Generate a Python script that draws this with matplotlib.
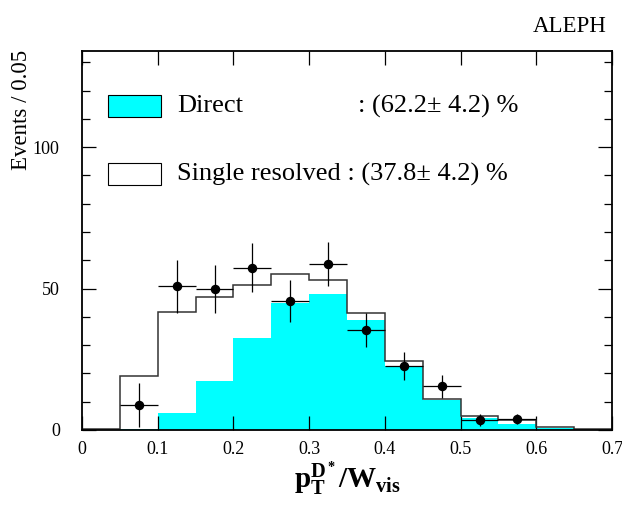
#!/usr/bin/env python3
"""
ALEPH D* pT/Wvis distribution: direct vs single resolved fit
"""

import matplotlib
matplotlib.use('Agg')
import matplotlib.pyplot as plt
from matplotlib.patches import Rectangle
from matplotlib.ticker import MultipleLocator

plt.rcParams['font.family'] = ['Liberation Serif', 'DejaVu Serif']
plt.rcParams['mathtext.fontset'] = 'custom'
plt.rcParams['mathtext.rm'] = 'Liberation Serif'
plt.rcParams['mathtext.it'] = 'Liberation Serif'
plt.rcParams['mathtext.bf'] = 'Liberation Serif:bold'

# bin edges (width 0.05)
bin_edges = [0.0, 0.05, 0.10, 0.15, 0.20, 0.25, 0.30, 0.35,
             0.40, 0.45, 0.50, 0.55, 0.60, 0.65, 0.70]

# direct component (cyan, filled)
direct = [0.0, 0.5, 6.0, 17.5, 32.7, 45.0, 48.1,
          39.0, 22.8, 10.6, 4.4, 2.1, 0.6, 0.1]

# direct + single resolved (open histogram)
total = [0.2, 19.0, 41.7, 46.9, 51.3, 55.0, 53.1,
         41.4, 24.3, 10.8, 5.1, 3.7, 1.0, 0.3]

# data points
data_x = [0.075, 0.125, 0.175, 0.225, 0.275, 0.325,
          0.375, 0.425, 0.475, 0.525, 0.575]
data_y = [8.9, 50.8, 49.8, 57.4, 45.7, 58.6,
          35.5, 22.6, 15.5, 3.5, 3.9]
data_err = [7.7, 9.3, 8.6, 8.6, 7.4, 7.7,
            6.0, 4.9, 4.1, 2.0, 1.8]
half_bin = 0.025

legend_labels = ['Direct', 'Single resolved : (37.8\u00b1 4.2) %']
direct_frac = ': (62.2\u00b1 4.2) %'

W, H = 622, 505
fig = plt.figure(figsize=(W / 100, H / 100), dpi=100)
ax = fig.add_axes([82 / W, 1 - 430 / H, 530 / W, 379 / H])

ax.stairs(direct, bin_edges, fill=True, color='#00ffff', zorder=1)
ax.stairs(total, bin_edges, color='#333333', linewidth=1.1, zorder=2)
ax.errorbar(data_x, data_y, yerr=data_err, xerr=half_bin, fmt='o',
            color='black', markersize=5.8, elinewidth=0.9, capsize=0, zorder=3)

ax.set_xlim(0, 0.7)
ax.set_ylim(0, 134)

ax.yaxis.set_major_locator(MultipleLocator(50))
ax.yaxis.set_minor_locator(MultipleLocator(10))
ax.set_xticks([0, 0.1, 0.2, 0.3, 0.4, 0.5, 0.6, 0.7])
ax.set_xticklabels(['0', '0.1', '0.2', '0.3', '0.4', '0.5', '0.6', '0.7'])

ax.tick_params(which='both', direction='in', top=True, right=True,
               color='black', width=0.9)
ax.tick_params(which='major', length=10, labelsize=13)
ax.tick_params(which='minor', length=6)
ax.tick_params(axis='x', pad=8)
ax.tick_params(axis='y', pad=16)
for sp in ax.spines.values():
    sp.set_linewidth(1.3)

ax.set_xlabel(r'$\mathbf{p_T^{D^*}/W_{vis}}$', fontsize=21)
ax.xaxis.set_label_coords(0.5, -0.078)

fig.text(22 / W, 1 - 50 / H, 'Events / 0.05', rotation=90,
         ha='center', va='top', fontsize=16.5)
fig.text(607 / W, 1 - 32 / H, 'ALEPH', ha='right', va='baseline', fontsize=16.5)

# legend drawn by hand
box_y = [(430 - 117) / 379, (430 - 185) / 379]
box_fill = ['#00ffff', 'white']
for by, fc, lab in zip(box_y, box_fill, legend_labels):
    ax.add_patch(Rectangle(((108 - 82) / 530, by), 53 / 530, 22 / 379,
                           transform=ax.transAxes, facecolor=fc,
                           edgecolor='black', linewidth=0.8, zorder=4))
    ax.text((177 - 82) / 530, by + 11 / 379, lab, transform=ax.transAxes,
            ha='left', va='center', fontsize=19)

ax.text((358 - 82) / 530, box_y[0] + 11 / 379, direct_frac,
        transform=ax.transAxes, ha='left', va='center', fontsize=19)

fig.savefig('out.png', dpi=100, facecolor='white')
